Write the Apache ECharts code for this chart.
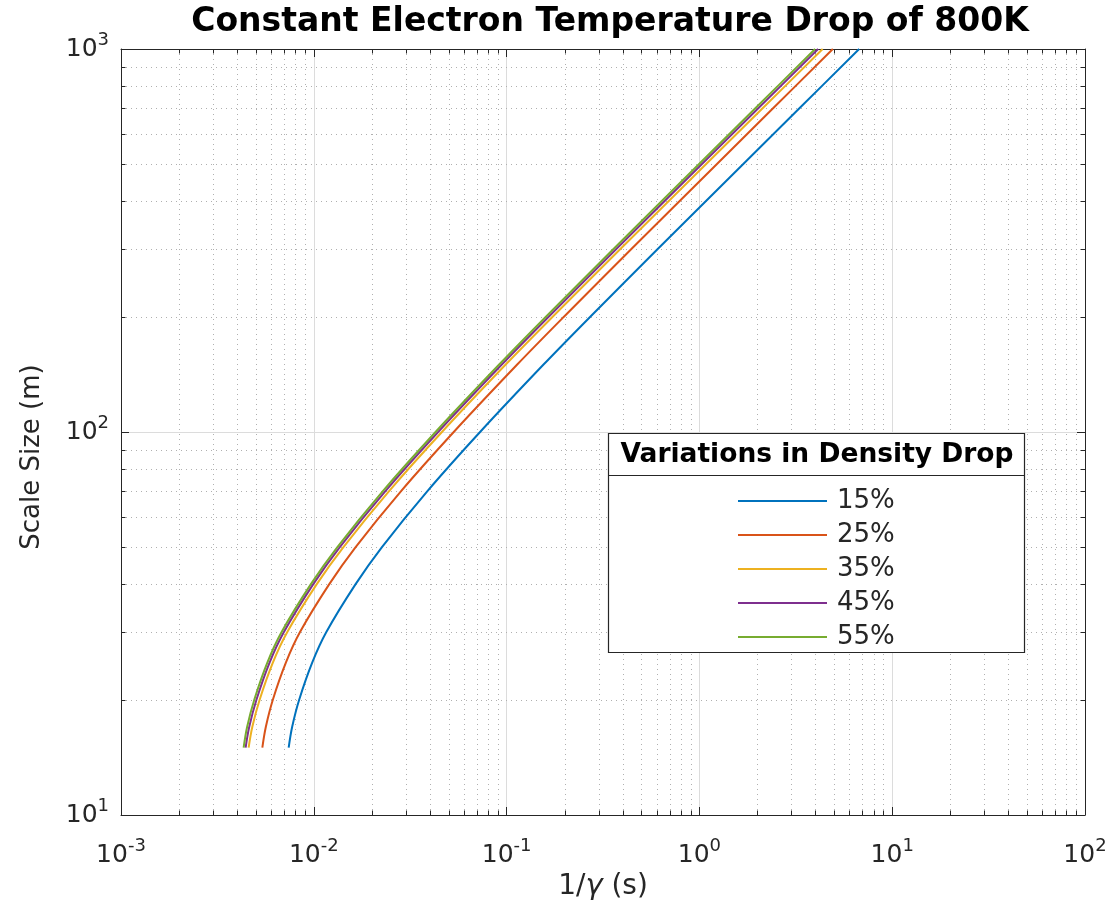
<!DOCTYPE html>
<html>
<head>
<meta charset="utf-8">
<script src="https://cdn.jsdelivr.net/npm/echarts@6/dist/echarts.min.js"></script>
<style>
html,body{margin:0;padding:0;background:#fff;}
#chart{width:1119px;height:917px;}
</style>
</head>
<body>
<div id="chart"></div>
<script>
// ---- data ----
const titleText = 'Constant Electron Temperature Drop of 800K';
const legendTitle = 'Variations in Density Drop';
const seriesNames = ['15%', '25%', '35%', '45%', '55%'];
const scaleSize = [15, 17, 20, 25, 30, 40, 50, 70, 100, 150, 200, 300, 500, 700, 1000];
const inv15 = [0.007408, 0.007725, 0.008398, 0.009811, 0.011598, 0.016443, 0.022519, 0.038750, 0.072846, 0.15545, 0.27168, 0.60597, 1.6841, 3.3014, 6.7400];
const inv25 = [0.005409, 0.005641, 0.006132, 0.007164, 0.008469, 0.012007, 0.016443, 0.028295, 0.053192, 0.11351, 0.19838, 0.44248, 1.2297, 2.4107, 4.9215];
const inv35 = [0.004592, 0.004800, 0.005237, 0.006133, 0.007276, 0.010340, 0.014213, 0.024514, 0.046192, 0.098931, 0.17333, 0.38797, 1.0808, 2.1276, 4.3566];
const inv45 = [0.004430, 0.004626, 0.005041, 0.005896, 0.006986, 0.009917, 0.013614, 0.023454, 0.044144, 0.094427, 0.16523, 0.36942, 1.0279, 2.0199, 4.1287];
const inv55 = [0.004326, 0.004512, 0.004913, 0.005742, 0.006798, 0.009641, 0.013225, 0.022763, 0.042807, 0.091490, 0.15996, 0.35732, 0.99339, 1.9504, 3.9833];
const xDecades = [-3, -2, -1, 0, 1, 2];   // x tick exponents
const yDecades = [1, 2, 3];               // y tick exponents
const minorMult = [2, 3, 4, 5, 6, 7, 8, 9];
const colors = ['#0072BD', '#D95319', '#EDB120', '#7E2F8E', '#77AC30'];

// ---- derived ----
const xMin = Math.pow(10, xDecades[0]), xMax = Math.pow(10, xDecades[xDecades.length - 1]);
const yMin = Math.pow(10, yDecades[0]), yMax = Math.pow(10, yDecades[yDecades.length - 1]);
const allInv = [inv15, inv25, inv35, inv45, inv55];
const xMinor = [], yMinor = [];
xDecades.slice(0, -1).forEach(e => minorMult.forEach(m => xMinor.push([m * Math.pow(10, e), yMin])));
yDecades.slice(0, -1).forEach(e => minorMult.forEach(m => yMinor.push([xMin, m * Math.pow(10, e)])));

const FONT = 'DejaVu Sans';
const AX = '#262626';
const tickFmt = v => '{b|10}{s|' + Math.round(Math.log10(v)) + '}';
const tickRich = {
  b: { fontSize: 25, fontFamily: FONT, color: AX },
  s: { fontSize: 18, fontFamily: FONT, color: AX, padding: [0, 0, 18, 0] }
};
const crisp = v => Math.round(v) + 0.5;

function minorX(params, api) {
  const v = api.value(0);
  const p0 = api.coord([v, yMin]);
  const p1 = api.coord([v, yMax]);
  const x = crisp(p0[0]);
  return { type: 'group', children: [
    { type: 'line', shape: { x1: x, y1: p0[1], x2: x, y2: p1[1] }, style: { stroke: '#b0b0b0', lineWidth: 1, lineDash: [1, 4] } },
    { type: 'line', shape: { x1: x, y1: p0[1], x2: x, y2: p0[1] - 4.5 }, style: { stroke: AX, lineWidth: 1 } },
    { type: 'line', shape: { x1: x, y1: p1[1], x2: x, y2: p1[1] + 4.5 }, style: { stroke: AX, lineWidth: 1 } }
  ] };
}
function minorY(params, api) {
  const v = api.value(1);
  const p0 = api.coord([xMin, v]);
  const p1 = api.coord([xMax, v]);
  const y = crisp(p0[1]);
  return { type: 'group', children: [
    { type: 'line', shape: { x1: p0[0], y1: y, x2: p1[0], y2: y }, style: { stroke: '#b0b0b0', lineWidth: 1, lineDash: [1, 4] } },
    { type: 'line', shape: { x1: p0[0], y1: y, x2: p0[0] + 4.5, y2: y }, style: { stroke: AX, lineWidth: 1 } },
    { type: 'line', shape: { x1: p1[0], y1: y, x2: p1[0] - 4.5, y2: y }, style: { stroke: AX, lineWidth: 1 } }
  ] };
}

const lineSeries = seriesNames.map((name, i) => ({
  name: name,
  type: 'line',
  xAxisIndex: 0, yAxisIndex: 0,
  data: scaleSize.map((s, j) => [allInv[i][j], s]),
  showSymbol: false,
  symbol: 'none',
  smooth: 0.35,
  lineStyle: { color: colors[i], width: 2 },
  itemStyle: { color: colors[i] },
  z: 3
}));

const baseAxis = {
  type: 'log', logBase: 10,
  axisLine: { show: true, onZero: false, lineStyle: { color: AX, width: 1 } },
  axisTick: { show: true, inside: true, length: 8, lineStyle: { color: AX, width: 1 } },
  minorTick: { show: false },
  minorSplitLine: { show: false }
};

const chart = echarts.init(document.getElementById('chart'), null, { renderer: 'canvas' });
chart.setOption({
  animation: false,
  backgroundColor: '#ffffff',
  title: {
    text: titleText,
    left: 605, top: 1, textAlign: 'center',
    textStyle: { fontFamily: FONT, fontWeight: 'bold', fontSize: 33, color: '#000' }
  },
  grid: { left: 121, right: 34, top: 49, bottom: 102, containLabel: false },
  xAxis: [
    Object.assign({}, baseAxis, {
      position: 'bottom', min: xMin, max: xMax, splitNumber: 5,
      name: '1/{i|γ} (s)', nameLocation: 'middle', nameGap: 54,
      nameTextStyle: { fontFamily: FONT, fontSize: 28, color: AX,
        rich: { i: { fontFamily: FONT, fontSize: 29, fontStyle: 'italic', color: AX } } },
      axisLabel: { formatter: tickFmt, rich: tickRich, margin: 22 },
      splitLine: { show: true, lineStyle: { color: '#dcdcdc', width: 1 } }
    }),
    Object.assign({}, baseAxis, {
      position: 'top', min: xMin, max: xMax, splitNumber: 5,
      axisLabel: { show: false }, splitLine: { show: false }
    })
  ],
  yAxis: [
    Object.assign({}, baseAxis, {
      position: 'left', min: yMin, max: yMax, splitNumber: 2,
      name: 'Scale Size (m)', nameLocation: 'middle', nameGap: 76,
      nameTextStyle: { fontFamily: FONT, fontSize: 26, color: AX, padding: [0, 50, 0, 0] },
      axisLabel: { formatter: tickFmt, rich: tickRich, margin: 12 },
      splitLine: { show: true, lineStyle: { color: '#dcdcdc', width: 1 } }
    }),
    Object.assign({}, baseAxis, {
      position: 'right', min: yMin, max: yMax, splitNumber: 2,
      axisLabel: { show: false }, splitLine: { show: false }
    })
  ],
  legend: {
    data: seriesNames,
    orient: 'vertical',
    left: 738, top: 488,
    padding: 0,
    icon: 'rect',
    itemWidth: 89, itemHeight: 2,
    itemGap: 8,
    textStyle: { fontFamily: FONT, fontSize: 26, lineHeight: 26, color: AX, padding: [0, 0, 0, 5] },
    z: 10
  },
  graphic: [
    { type: 'rect', z: 8, shape: { x: 608.5, y: 433.5, width: 416, height: 219 },
      style: { fill: '#ffffff', stroke: AX, lineWidth: 1.2 } },
    { type: 'line', z: 9, shape: { x1: 608.5, y1: 475.5, x2: 1024.5, y2: 475.5 },
      style: { stroke: AX, lineWidth: 1.2 } },
    { type: 'text', z: 9, x: 817, y: 455,
      style: { text: legendTitle, fontFamily: FONT, fontWeight: 'bold', fontSize: 26.5, fill: '#000',
        align: 'center', verticalAlign: 'middle' } }
  ],
  series: [
    { type: 'custom', name: 'minorX', data: xMinor, renderItem: minorX, silent: true, z: 1, clip: true },
    { type: 'custom', name: 'minorY', data: yMinor, renderItem: minorY, silent: true, z: 1, clip: true }
  ].concat(lineSeries)
});
</script>
</body>
</html>
